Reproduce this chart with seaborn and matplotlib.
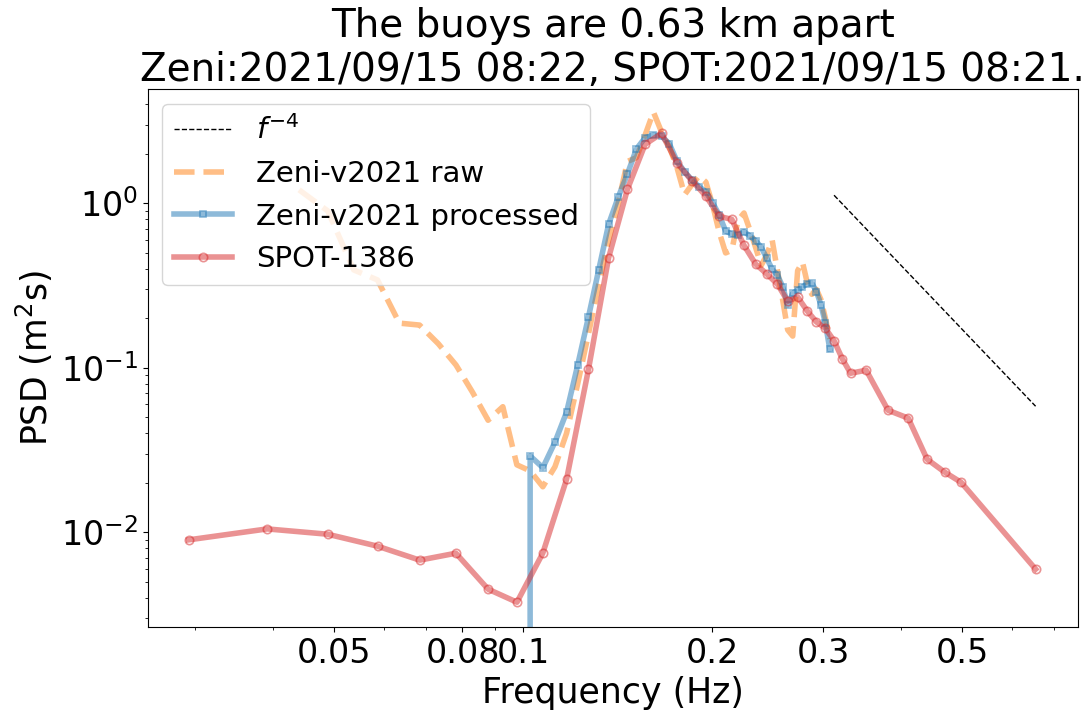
import numpy as np
import pandas as pd
import matplotlib
matplotlib.use("Agg")
import matplotlib.pyplot as plt
import seaborn as sns
from matplotlib.ticker import NullFormatter, FixedLocator, FixedFormatter

# SPOT-1386 spectrum
spot_f = [0.0293, 0.0391, 0.0488, 0.0586, 0.0684, 0.0781, 0.0879, 0.0977, 0.1074, 0.1172,
          0.1270, 0.1367, 0.1465, 0.1563, 0.1660, 0.1758, 0.1855, 0.1953, 0.2051, 0.2148,
          0.2246, 0.2344, 0.2441, 0.2539, 0.2637, 0.2734, 0.2832, 0.2930, 0.3027, 0.3125,
          0.3223, 0.3320, 0.3516, 0.3809, 0.4102, 0.4395, 0.4688, 0.4980, 0.6543]
spot_psd = [0.00898, 0.01047, 0.00972, 0.00822, 0.00676, 0.00745, 0.0045, 0.00375, 0.00745, 0.0210,
            0.098, 0.466, 1.22, 2.29, 2.67, 1.756, 1.377, 1.11, 0.835, 0.80,
            0.556, 0.428, 0.373, 0.323, 0.254, 0.27, 0.222, 0.19, 0.174, 0.146,
            0.113, 0.0927, 0.0967, 0.0552, 0.0494, 0.0278, 0.0232, 0.0201, 0.00596]

# Zeni-v2021 processed (df = 0.0048828 Hz, bins 20..63)
proc_f = [0.09766, 0.10254, 0.10742, 0.11230, 0.11719, 0.12207, 0.12695, 0.13184, 0.13672, 0.14160,
          0.14648, 0.15137, 0.15625, 0.16113, 0.16602, 0.17090, 0.17578, 0.18066, 0.18555, 0.19043,
          0.19531, 0.20020, 0.20508, 0.20996, 0.21484, 0.21973, 0.22461, 0.22949, 0.23438, 0.23926,
          0.24414, 0.24902, 0.25391, 0.25879, 0.26367, 0.26855, 0.27344, 0.27832, 0.28320, 0.28809,
          0.29297, 0.29785, 0.30273, 0.30762]
proc_psd = [0.0, 0.0291, 0.0247, 0.0353, 0.0537, 0.104, 0.203, 0.394, 0.747, 1.09,
            1.51, 2.14, 2.51, 2.61, 2.57, 2.30, 1.80, 1.56, 1.39, 1.265,
            1.18, 1.01, 0.851, 0.68, 0.65, 0.643, 0.674, 0.634, 0.594, 0.541,
            0.464, 0.398, 0.367, 0.312, 0.2415, 0.284, 0.298, 0.31, 0.325, 0.327,
            0.291, 0.2415, 0.187, 0.13]

# Zeni-v2021 raw (bins 9..63)
raw_f = [0.04395, 0.04883, 0.05371, 0.05859, 0.06348, 0.06836, 0.07324, 0.07813, 0.08301, 0.08789,
         0.09277, 0.09766, 0.10254, 0.10742, 0.11230, 0.11719, 0.12207, 0.12695, 0.13184, 0.13672,
         0.14160, 0.14648, 0.15137, 0.15625, 0.16113, 0.16602, 0.17090, 0.17578, 0.18066, 0.18555,
         0.19043, 0.19531, 0.20020, 0.20508, 0.20996, 0.21484, 0.21973, 0.22461, 0.22949, 0.23438,
         0.23926, 0.24414, 0.24902, 0.25391, 0.25879, 0.26367, 0.26855, 0.27344, 0.27832, 0.28320,
         0.28809, 0.29297, 0.29785, 0.30273, 0.30762]
raw_psd = [1.21, 0.90, 0.394, 0.3425, 0.187, 0.182, 0.14, 0.104, 0.071, 0.048,
           0.058, 0.0257, 0.0236, 0.0189, 0.025, 0.04, 0.08, 0.16, 0.32, 0.6,
           1.0, 1.8, 1.9, 2.6, 3.6, 2.72, 2.2, 1.64, 1.13, 1.3,
           1.47, 1.35, 0.98, 0.67, 0.5, 0.52, 0.79, 0.875, 0.69, 0.54,
           0.42, 0.486, 0.6, 0.39, 0.26, 0.17, 0.156, 0.39, 0.44, 0.33,
           0.28, 0.30, 0.26, 0.20, 0.15]

# f^-4 reference
ref_coef = 0.0107
ref_f = np.array([f for f in spot_f if f >= 0.31])
ref_psd = ref_coef * ref_f ** -4

plt.rcParams['font.size'] = 24

fig, ax = plt.subplots(figsize=(10.87, 7.2), dpi=100)
fig.subplots_adjust(left=0.1359, right=0.9914, bottom=0.1288, top=0.876)

sns.lineplot(x=ref_f, y=ref_psd, ax=ax, color='k', lw=1, linestyle='--',
             estimator=None, label='$f^{-4}$')
sns.lineplot(x=raw_f, y=raw_psd, ax=ax, color='tab:orange', lw=4, alpha=0.5,
             linestyle='--', estimator=None, label='Zeni-v2021 raw')
sns.lineplot(x=proc_f, y=proc_psd, ax=ax, color='tab:blue', lw=4, alpha=0.5,
             marker='s', ms=4, mec='tab:blue', mfc='none', mew=1.2,
             estimator=None, label='Zeni-v2021 processed')
sns.lineplot(x=spot_f, y=spot_psd, ax=ax, color='tab:red', lw=4, alpha=0.5,
             marker='o', ms=6, mec='tab:red', mfc='none', mew=1.2,
             estimator=None, label='SPOT-1386')

ax.set_xscale('log')
ax.set_yscale('log')
ax.set_xlim(0.02523, 0.7634)
ax.set_ylim(0.00264, 4.95)

xt = [0.05, 0.08, 0.1, 0.2, 0.3, 0.5]
ax.xaxis.set_major_locator(FixedLocator(xt))
ax.xaxis.set_major_formatter(FixedFormatter(['0.05', '0.08', '0.1', '0.2', '0.3', '0.5']))
ax.xaxis.set_minor_formatter(NullFormatter())

ax.set_xlabel('Frequency (Hz)', fontsize=25)
ax.set_ylabel('PSD (m$^2$s)', fontsize=25)
ax.set_title('The buoys are 0.63 km apart\nZeni:2021/09/15 08:22, SPOT:2021/09/15 08:21.',
             fontsize=28)
ax.legend(loc='upper left', fontsize=21)

fig.savefig('out.png', dpi=100)
